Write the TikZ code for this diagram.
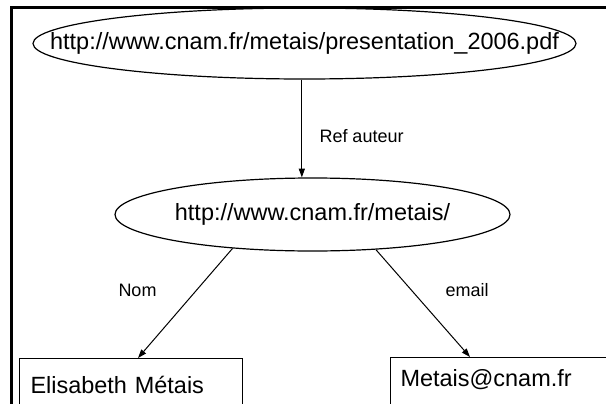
\documentclass[tikz,border=0pt]{standalone}
\usepackage{fontspec}
\setmainfont{Liberation Sans}
\usetikzlibrary{shapes.geometric,arrows.meta}

\tikzset{every picture/.style={line width=0.75pt}}

\begin{document}
\begin{tikzpicture}[x=0.75pt,y=0.75pt,yscale=-1,xscale=1,
  uri/.style={draw,ellipse,inner sep=0pt,line width=0.9pt,font=\fontsize{17.6}{21}\selectfont},
  lit/.style={draw,rectangle,anchor=north west,inner ysep=0pt,align=left,text depth=24pt,font=\fontsize{17.6}{21}\selectfont},
  prop/.style={anchor=base west,inner sep=0pt,font=\fontsize{13.5}{16}\selectfont},
  rel/.style={-{Triangle[length=6.5pt,width=4.5pt]}}]
\useasboundingbox (0,0) rectangle (606,403);
\clip (0,0) rectangle (606,403);
%Frame
\draw [line width=2pt] (11.3,420) -- (11.3,7.3) -- (620,7.3) ;
%Resources
\node [uri,minimum width=407.25pt,minimum height=53.25pt] (doc) at (304.5,43.5) {\makebox[0pt]{http://www.cnam.fr/metais/presentation\_2006.pdf}};
\node [uri,minimum width=296.25pt,minimum height=54.75pt] (author) at (312.5,214.5) {\makebox[0pt]{http://www.cnam.fr/metais/}};
%Literals
\node [lit,inner xsep=8.25pt,text width=150.75pt,text height=26.25pt] (name) at (19,358) {Elisabeth Métais};
\node [lit,inner xsep=7.5pt,text width=165pt,text height=21.75pt] (mail) at (390,357) {Metais@cnam.fr};
%Properties
\draw [rel] ([xshift=-2pt]doc.south) -- ([xshift=-2pt]doc.south |- author.north) ;
\draw [rel] (author.203) -- ([xshift=89.25pt]name.north west) ;
\draw [rel] (author.331) -- ([xshift=60pt]mail.north west) ;
% Text Node
\node [prop] (refauteur) at (319,142) {Ref auteur};
% Text Node
\node [prop] (nom) at (118,296) {Nom};
% Text Node
\node [prop] (email) at (445,296) {email};
\end{tikzpicture}
\end{document}
